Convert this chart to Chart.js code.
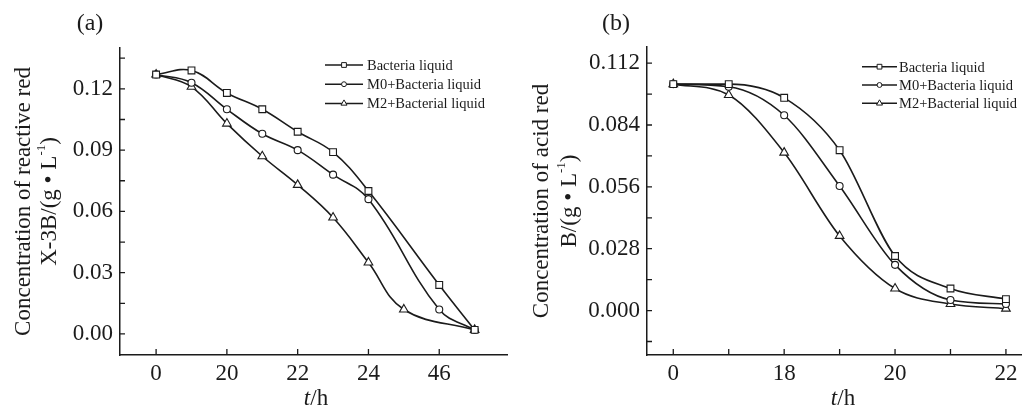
<!DOCTYPE html>
<html>
<head>
<meta charset="utf-8">
<script src="https://cdn.jsdelivr.net/npm/chart.js@4.4.1/dist/chart.umd.min.js"></script>
<style>
    html, body { margin: 0; padding: 0; background: #fff; }
    #wrap { position: relative; width: 1028px; height: 409px; overflow: hidden; }
    .panel { position: absolute; top: 0; width: 514px; height: 409px; }
</style>
</head>
<body>
<div id="wrap">
    <div class="panel" style="left:0"><canvas id="chart-a"></canvas></div>
    <div class="panel" style="left:514px"><canvas id="chart-b"></canvas></div>
</div>
<script>
const seriesNames = ['Bacteria liquid', 'M0+Bacteria liquid', 'M2+Bacterial liquid'];
const markerStyles = ['rect', 'circle', 'triangle'];
const markerRadius = [4.8, 3.5, 5];

// (a) reactive red X-3B, x = sampling step
const timeA = [0, 0.5, 1, 1.5, 2, 2.5, 3, 3.5, 4, 4.5];
const bacteriaA = [0.127, 0.129, 0.118, 0.110, 0.099, 0.089, 0.070, null, 0.024, 0.002];
const m0A = [0.127, 0.123, 0.110, 0.098, 0.090, 0.078, 0.066, null, 0.012, 0.002];
const m2A = [0.127, 0.121, 0.103, 0.087, 0.073, 0.057, 0.035, 0.012, null, 0.002];
const xTicksA = [0, 1, 2, 3, 4];
const xLabelsA = ['0', '20', '22', '24', '46'];
const xMinorA = [];
const yTicksA = [0, 0.03, 0.06, 0.09, 0.12];
const yMinorA = [0.015, 0.045, 0.075, 0.105, 0.135];

// (b) acid red B
const timeB = [0, 0.5, 1, 1.5, 2, 2.5, 3];
const bacteriaB = [0.1025, 0.1025, 0.0963, 0.0726, 0.0247, 0.0100, 0.0052];
const m0B = [0.1025, 0.1013, 0.0884, 0.0564, 0.0207, 0.0048, 0.0030];
const m2B = [0.1025, 0.0976, 0.0715, 0.0338, 0.0100, 0.0030, 0.0009];
const xTicksB = [0, 1, 2, 3];
const xLabelsB = ['0', '18', '20', '22'];
const xMinorB = [0.5, 1.5, 2.5];
const yTicksB = [0, 0.028, 0.056, 0.084, 0.112];
const yMinorB = [-0.014, 0.014, 0.042, 0.070, 0.098];

const FONT = '"Liberation Serif", "Times New Roman", serif';
const INK = '#1b1b1b';

function toPoints(xs, ys) {
    return xs.map((x, i) => ({ x: x, y: ys[i] }));
}

// small inward tick marks on both axes
const tickMarks = {
    id: 'tickMarks',
    afterDraw(chart, args, opts) {
        const ctx = chart.ctx, xs = chart.scales.x, ys = chart.scales.y;
        const area = chart.chartArea;
        ctx.save();
        ctx.strokeStyle = INK;
        ctx.lineWidth = 1.3;
        ctx.beginPath();
        opts.x.forEach(v => {
            const px = xs.getPixelForValue(v);
            if (px < area.left || px > area.right) return;
            ctx.moveTo(px, area.bottom);
            ctx.lineTo(px, area.bottom - 6);
        });
        opts.y.forEach(v => {
            const py = ys.getPixelForValue(v);
            if (py < area.top || py > area.bottom) return;
            ctx.moveTo(area.left, py);
            ctx.lineTo(area.left + 5, py);
        });
        ctx.stroke();
        ctx.restore();
    }
};

// line + marker legend, panel letter and axis titles
const annotations = {
    id: 'annotations',
    afterDraw(chart, args, opts) {
        const ctx = chart.ctx;
        const area = chart.chartArea;
        ctx.save();
        ctx.fillStyle = INK;
        ctx.strokeStyle = INK;

        // legend
        ctx.font = '14.5px ' + FONT;
        ctx.textBaseline = 'middle';
        ctx.textAlign = 'left';
        chart.data.datasets.forEach((ds, i) => {
            const y = opts.legend.y + i * opts.legend.gap;
            const x0 = opts.legend.x;
            ctx.lineWidth = 1.5;
            ctx.beginPath();
            ctx.moveTo(x0, y);
            ctx.lineTo(x0 + opts.legend.len, y);
            ctx.stroke();
            ctx.fillStyle = '#fff';
            ctx.lineWidth = 1;
            Chart.helpers.drawPoint(ctx, {
                pointStyle: ds.pointStyle,
                radius: ds.pointRadius * 0.7,
                rotation: 0,
                borderWidth: 1
            }, x0 + opts.legend.len / 2, y);
            ctx.fillStyle = INK;
            ctx.fillText(ds.label, x0 + opts.legend.len + opts.legend.gapText, y + 1);
        });

        // panel letter
        ctx.font = '24px ' + FONT;
        ctx.textAlign = 'center';
        ctx.fillText(opts.letter.text, opts.letter.x, opts.letter.y);

        // x title: italic t, upright /h
        ctx.font = 'italic 23px ' + FONT;
        const wt = ctx.measureText('t').width;
        ctx.font = '23px ' + FONT;
        const wh = ctx.measureText('/h').width;
        let tx = opts.xTitle.x - (wt + wh) / 2;
        ctx.textAlign = 'left';
        ctx.font = 'italic 23px ' + FONT;
        ctx.fillText('t', tx, opts.xTitle.y);
        ctx.font = '23px ' + FONT;
        ctx.fillText('/h', tx + wt, opts.xTitle.y);

        // y title, two rotated lines
        const cy = (area.top + area.bottom) / 2;
        ctx.save();
        ctx.translate(opts.yTitle.x1, cy);
        ctx.rotate(-Math.PI / 2);
        ctx.textAlign = 'center';
        ctx.font = '23px ' + FONT;
        ctx.fillText(opts.yTitle.line1, 0, 0);
        ctx.restore();

        ctx.save();
        ctx.translate(opts.yTitle.x2, cy);
        ctx.rotate(-Math.PI / 2);
        ctx.textAlign = 'left';
        const partA = opts.yTitle.line2 + '/(g \u2022 L';
        const sup = '-1';
        const close = ')';
        ctx.font = '23px ' + FONT;
        const wa = ctx.measureText(partA).width;
        const wc = ctx.measureText(close).width;
        ctx.font = '13px ' + FONT;
        const ws = ctx.measureText(sup).width;
        let sx = -(wa + ws + wc) / 2;
        ctx.font = '23px ' + FONT;
        ctx.fillText(partA, sx, 0);
        ctx.font = '13px ' + FONT;
        ctx.fillText(sup, sx + wa, -8);
        ctx.font = '23px ' + FONT;
        ctx.fillText(close, sx + wa + ws, 0);
        ctx.restore();

        ctx.restore();
    }
};

function makeChart(id, p) {
    const datasets = p.series.map((ys, i) => ({
        label: seriesNames[i],
        data: toPoints(p.time, ys),
        borderColor: INK,
        borderWidth: 1.6,
        backgroundColor: '#fff',
        pointStyle: markerStyles[i],
        pointRadius: markerRadius[i],
        pointBorderWidth: 1.1,
        pointBorderColor: INK,
        pointBackgroundColor: '#fff',
        cubicInterpolationMode: p.curve,
        tension: 0.4,
        spanGaps: true,
        clip: false
    }));

    return new Chart(document.getElementById(id), {
        type: 'line',
        data: { datasets: datasets },
        plugins: [tickMarks, annotations],
        options: {
            responsive: true,
            maintainAspectRatio: false,
            animation: false,
            layout: { padding: { left: 0, top: p.top, right: p.right, bottom: 0 } },
            plugins: {
                legend: { display: false },
                tooltip: { enabled: false },
                tickMarks: { x: p.xTicks.concat(p.xMinor), y: p.yTicks.concat(p.yMinor) },
                annotations: p.notes
            },
            scales: {
                x: {
                    type: 'linear',
                    min: p.xMin,
                    max: p.xMax,
                    grid: { display: false, drawTicks: false },
                    border: { display: true, color: INK, width: 1.5 },
                    afterBuildTicks: s => { s.ticks = p.xTicks.map(v => ({ value: v })); },
                    afterFit: s => { s.height = 54; s.paddingLeft = 0; s.paddingRight = 0; },
                    ticks: {
                        autoSkip: false,
                        maxRotation: 0,
                        minRotation: 0,
                        padding: 5,
                        color: INK,
                        font: { family: FONT, size: 23 },
                        callback: v => p.xLabels[p.xTicks.indexOf(v)]
                    }
                },
                y: {
                    type: 'linear',
                    min: p.yMin,
                    max: p.yMax,
                    grid: { display: false, drawTicks: false },
                    border: { display: true, color: INK, width: 1.5 },
                    afterBuildTicks: s => { s.ticks = p.yTicks.map(v => ({ value: v })); },
                    afterFit: s => { s.width = p.left; },
                    ticks: {
                        autoSkip: false,
                        padding: 7,
                        color: INK,
                        font: { family: FONT, size: 23 },
                        callback: v => v.toFixed(p.digits)
                    }
                }
            }
        }
    });
}

makeChart('chart-a', {
    time: timeA,
    series: [bacteriaA, m0A, m2A],
    xTicks: xTicksA, xLabels: xLabelsA, xMinor: xMinorA,
    yTicks: yTicksA, yMinor: yMinorA,
    xMin: -0.51, xMax: 4.97, yMin: -0.0103, yMax: 0.14,
    digits: 2, left: 120, top: 48, right: 2, curve: 'default',
    notes: {
        legend: { x: 325, y: 65, gap: 19.2, len: 38, gapText: 4 },
        letter: { text: '(a)', x: 90, y: 24 },
        xTitle: { x: 316, y: 399 },
        yTitle: { x1: 24, x2: 50, line1: 'Concentration of reactive red', line2: 'X-3B' }
    }
});

makeChart('chart-b', {
    time: timeB,
    series: [bacteriaB, m0B, m2B],
    xTicks: xTicksB, xLabels: xLabelsB, xMinor: xMinorB,
    yTicks: yTicksB, yMinor: yMinorB,
    xMin: -0.237, xMax: 3.144, yMin: -0.0201, yMax: 0.1193,
    digits: 3, left: 133, top: 47, right: 0, curve: 'monotone',
    notes: {
        legend: { x: 348, y: 66.7, gap: 18.3, len: 35, gapText: 2 },
        letter: { text: '(b)', x: 102, y: 24 },
        xTitle: { x: 329, y: 399 },
        yTitle: { x1: 28, x2: 56, line1: 'Concentration of acid red', line2: 'B' }
    }
});
</script>
</body>
</html>
